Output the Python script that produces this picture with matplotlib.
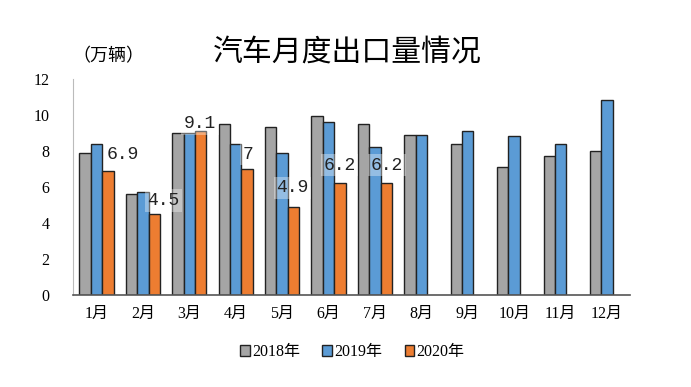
"""
汽车月度出口量情况 - grouped bar chart (2018/2019/2020).
"""

import matplotlib
matplotlib.use('Agg')
import matplotlib.pyplot as plt
import numpy as np

# ===== Data =====
months = ['1月', '2月', '3月', '4月', '5月', '6月', '7月', '8月', '9月', '10月', '11月', '12月']
exports_2018 = [7.9, 5.6, 9.0, 9.5, 9.3, 9.9, 9.5, 8.9, 8.4, 7.1, 7.7, 8.0]
exports_2019 = [8.4, 5.7, 9.0, 8.4, 7.9, 9.6, 8.2, 8.9, 9.1, 8.8, 8.4, 10.8]
exports_2020 = [6.9, 4.5, 9.1, 7.0, 4.9, 6.2, 6.2]
labels_2020 = ['6.9', '4.5', '9.1', '7', '4.9', '6.2', '6.2']
series_names = ['2018年', '2019年', '2020年']
yticks = [0, 2, 4, 6, 8, 10, 12]

# label nudges (dx in bar units, dy in data units) relative to the orange bar top
label_offsets = [(0.32, 0.9), (0.2, 0.75), (-0.02, 0.42), (0.03, 0.82),
                 (-0.02, 1.05), (-0.01, 1.0), (0.01, 1.0)]

colors = ['#A5A5A5', '#5B9BD5', '#ED7D31']
serif = ['Liberation Serif', 'Noto Sans CJK SC']
cjk = ['Noto Sans CJK SC', 'DejaVu Sans']

fig = plt.figure(figsize=(6.91, 3.87), dpi=100)
ax = fig.add_axes([0.106, 0.237, 0.806, 0.56])

x = np.arange(len(months))
w = 0.245
ax.bar(x - w, exports_2018, w, color=colors[0], edgecolor='#222222', linewidth=1.0, label=series_names[0])
ax.bar(x, exports_2019, w, color=colors[1], edgecolor='#222222', linewidth=1.0, label=series_names[1])
x20 = x[:len(exports_2020)] + w
ax.bar(x20, exports_2020, w, color=colors[2], edgecolor='#222222', linewidth=1.0, label=series_names[2])

# data labels for 2020
for xi, v, txt, (dx, dy) in zip(x20, exports_2020, labels_2020, label_offsets):
    ax.text(xi + dx, v + dy, txt, ha='center', va='center', fontsize=13,
            family=['Liberation Mono', 'DejaVu Sans Mono'], color='#222222',
            bbox=dict(boxstyle='square,pad=0.15', facecolor='white', edgecolor='none', alpha=0.35))

ax.set_xlim(-0.5, len(months) - 0.5)
ax.set_ylim(0, 12)
ax.set_yticks(yticks)
ax.set_yticklabels([str(t) for t in yticks], family=serif, fontsize=11.5)
ax.set_xticks(x)
ax.set_xticklabels(months, family=serif, fontsize=11.5)
ax.tick_params(axis='y', length=0, pad=17)
ax.tick_params(axis='x', length=0, pad=8)

for s in ['top', 'right']:
    ax.spines[s].set_visible(False)
ax.spines['left'].set_color('#BBBBBB')
ax.spines['left'].set_linewidth(0.8)
ax.spines['bottom'].set_color('#555555')
ax.spines['bottom'].set_linewidth(1.2)

fig.text(0.502, 0.866, '汽车月度出口量情况', ha='center', va='center', fontsize=21.5,
         family=cjk, fontweight='light')
fig.text(0.157, 0.855, '（万辆）', ha='center', va='center', fontsize=13, family=cjk)

leg = ax.legend(loc='center', bbox_to_anchor=(0.51, 0.09), bbox_transform=fig.transFigure,
                ncol=3, frameon=False, handlelength=0.6, handleheight=0.6,
                handletextpad=0.15, columnspacing=1.4, prop={'family': serif, 'size': 11.5})

fig.savefig('out.png', dpi=100)
